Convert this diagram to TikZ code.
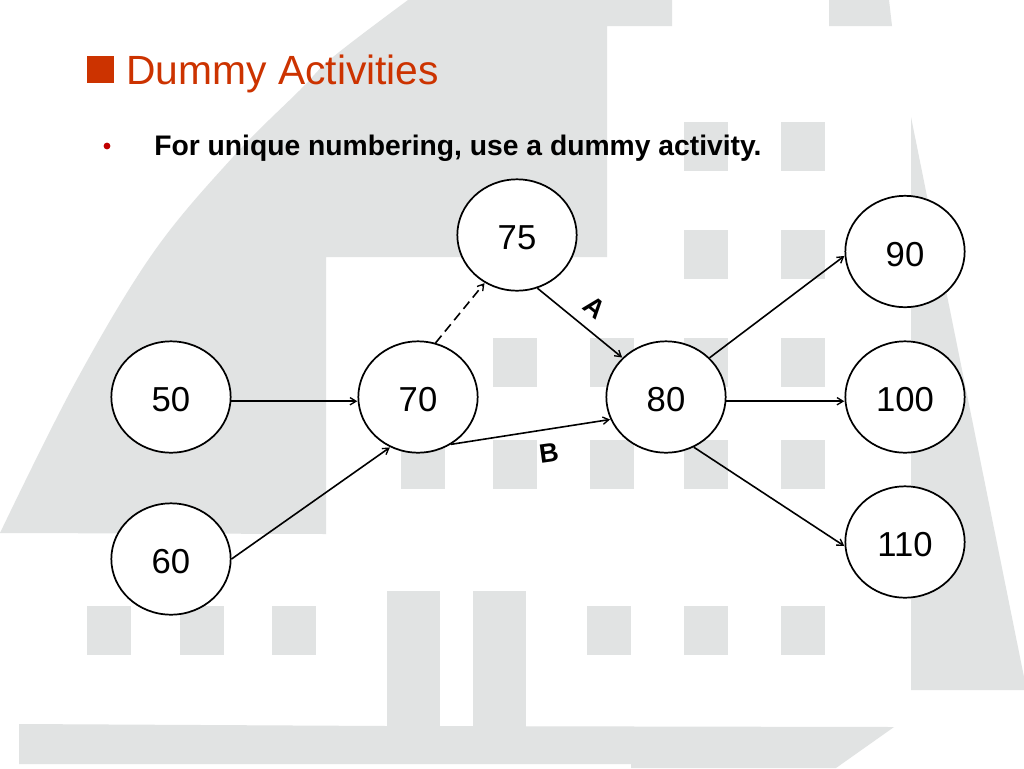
\documentclass[tikz,border=0pt]{standalone}
\usepackage{fontspec}
\setmainfont{Liberation Sans}
\usetikzlibrary{shapes.geometric,arrows.meta}
\definecolor{bggray}{HTML}{E1E3E3}
\definecolor{titlered}{HTML}{CC3300}
\definecolor{bulletred}{HTML}{C00000}
\tikzset{
  x=0.75pt,y=-0.75pt,
  event/.style={ellipse,draw=black,line width=1.3pt,fill=white,minimum width=89.5pt,minimum height=83.5pt,inner sep=0pt,font=\fontsize{26pt}{30pt}\selectfont},
  link/.style={draw=black,line width=1.2pt,-{Straight Barb[length=4.5pt,width=5.5pt,line width=1pt]},shorten >=0.3pt},
  tag/.style={font=\bfseries\fontsize{20pt}{22pt}\selectfont,inner sep=0pt},
}
\newcommand{\ev}[1]{\raisebox{-2pt}[\height][0pt]{#1}}
\begin{document}
\begin{tikzpicture}
\useasboundingbox (0,0) rectangle (1024,768);
\fill[white] (0,0) rectangle (1024,768);
% background
\fill[bggray] plot[smooth,tension=0.6] coordinates {(408,0) (333,57) (300,90) (233,157) (153,253) (75,383) (0,533)}
  -- (326,534) -- (326,257) -- (607,257) -- (607,26) -- (672,26) -- (672,0) -- cycle;
\fill[bggray] (829,0) -- (889,0) -- (892,26) -- (829,26) -- cycle;
\fill[bggray] (911,117) -- (1024,677) -- (1024,690) -- (911,690) -- cycle;
\foreach \xa/\ya in {684/122,781/122,684/230,781/230,
  493/338,590/338,684/338,781/338,
  401/440,493/440,590/440,684/440,781/440,
  87/606,180/606,272/606,587/606,684/606,781/606}
  \fill[bggray] (\xa,\ya) rectangle +(44,48.5);
\fill[bggray] (387,591) rectangle (440,730);
\fill[bggray] (473,591) rectangle (526,730);
\fill[bggray] (19,724) -- (387,726) -- (894,727) -- (836,768) -- (631,768) -- (631,764) -- (19,764) -- cycle;
% title
\fill[titlered] (87,56) rectangle (114,83);
\node[anchor=base west,inner sep=0pt,text=titlered,font=\fontsize{30.6pt}{34pt}\selectfont] (title) at (126,84) {Dummy Activities};
\fill[bulletred] (107,146) circle (3.4);
\node[anchor=base west,inner sep=0pt,font=\bfseries\fontsize{21.2pt}{24pt}\selectfont] (body) at (154,155.7) {For unique numbering, use a dummy activity.};
% nodes
\node[event] (n75) at (517,235) {\ev{75}};
\node[event] (n90) at (905,251.5) {\ev{90}};
\node[event] (n50) at (171,397) {\ev{50}};
\node[event] (n70) at (418,397) {\ev{70}};
\node[event] (n80) at (666,397) {\ev{80}};
\node[event] (n100) at (905,397) {\ev{100}};
\node[event] (n60) at (171,559) {\ev{60}};
\node[event] (n110) at (905,542) {\ev{110}};
% connectors
\draw[link] (n50.-4.5) -- (n70.184.5);
\draw[link] (n60.0) -- (n70.-119);
\draw[link] (n70.-55.7) -- (n80.202.2);
\draw[link,dash pattern=on 7pt off 4pt] (n70.72.8) -- (n75.236.3);
\draw[link] (n75.-69.3) -- (n80.138.4);
\draw[link] (n80.42.9) -- (n90.184.8);
\draw[link] (n80.-4.5) -- (n100.184.5);
\draw[link] (n80.-61) -- (n110.184.8);
% labels
\node[tag,rotate=-39] (la) at (595,307) {A};
\node[tag,rotate=8] (lb) at (549,453) {B};
\end{tikzpicture}
\end{document}
